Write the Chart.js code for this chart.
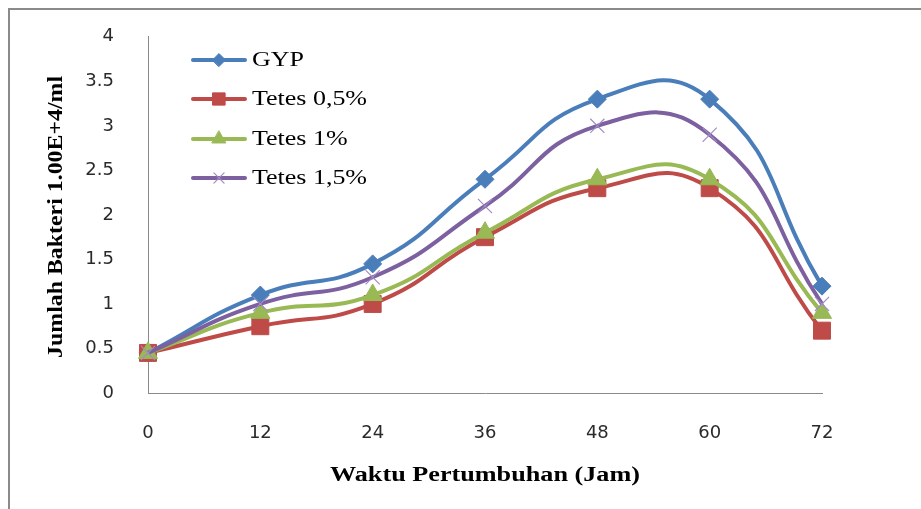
<!DOCTYPE html>
<html>
<head>
<meta charset="utf-8">
<script src="https://cdn.jsdelivr.net/npm/chart.js@4/dist/chart.umd.min.js"></script>
<style>
  html, body { margin: 0; padding: 0; background: #ffffff; }
  #wrap { width: 921px; height: 509px; position: relative; }
</style>
</head>
<body>
<div id="wrap"><canvas id="c" width="921" height="509"></canvas></div>
<script>
// Growth time (hours) and bacterial counts per treatment
const hours = [0, 12, 24, 36, 48, 60, 72];
const gyp = [0.45, 1.1, 1.45, 2.4, 3.3, 3.3, 1.2];
const tetes05 = [0.45, 0.75, 1.0, 1.75, 2.3, 2.3, 0.7];
const tetes1 = [0.45, 0.9, 1.1, 1.8, 2.4, 2.4, 0.9];
const tetes15 = [0.45, 1.0, 1.3, 2.1, 3.0, 2.9, 1.0];
const seriesNames = ['GYP', 'Tetes 0,5%', 'Tetes 1%', 'Tetes 1,5%'];
const yTicks = [0, 0.5, 1, 1.5, 2, 2.5, 3, 3.5, 4];
const xTitle = 'Waktu Pertumbuhan (Jam)';
const yTitle = 'Jumlah Bakteri 1.00E+4/ml';

const pts = arr => hours.map((h, i) => ({ x: h, y: arr[i] }));

function series(label, values, color, style, radius, order, markerColor, markerWidth) {
  return {
    label: label,
    data: pts(values),
    borderColor: color,
    backgroundColor: markerColor || color,
    borderWidth: 4,
    tension: 0.5,
    pointStyle: style,
    pointRadius: radius,
    pointHoverRadius: radius,
    pointBackgroundColor: markerColor || color,
    pointBorderColor: markerColor || color,
    pointBorderWidth: markerWidth || 1,
    clip: false,
    order: order
  };
}

const datasets = [
  series(seriesNames[0], gyp, '#4A7EBB', 'rectRot', 9, 4),
  series(seriesNames[1], tetes05, '#BE4B48', 'rect', 12, 3),
  series(seriesNames[2], tetes1, '#98B954', 'triangle', 11, 2),
  series(seriesNames[3], tetes15, '#7D60A0', 'crossRot', 10, 1, '#A08CC4', 1.2)
];

// Draws text stretched horizontally to a given width
function drawStretched(ctx, text, cx, cy, font, targetWidth, rotate) {
  ctx.save();
  ctx.font = font;
  const w = ctx.measureText(text).width;
  const sx = targetWidth ? targetWidth / w : 1;
  ctx.translate(cx, cy);
  if (rotate) ctx.rotate(rotate);
  ctx.scale(sx, 1);
  ctx.textAlign = 'center';
  ctx.textBaseline = 'middle';
  ctx.fillStyle = '#000000';
  ctx.fillText(text, 0, 0);
  ctx.restore();
}

const decorations = {
  id: 'decorations',
  beforeDraw(chart) {
    const ctx = chart.ctx;
    ctx.save();
    ctx.fillStyle = '#ffffff';
    ctx.fillRect(0, 0, chart.width, chart.height);
    // outer frame (top and left edges visible)
    ctx.strokeStyle = '#8a8a8a';
    ctx.lineWidth = 2;
    ctx.beginPath();
    ctx.moveTo(chart.width, 9);
    ctx.lineTo(9, 9);
    ctx.lineTo(9, chart.height);
    ctx.stroke();
    ctx.restore();
  },
  afterDraw(chart) {
    const ctx = chart.ctx;
    const area = chart.chartArea;
    const midX = (area.left + area.right) / 2;
    const midY = (area.top + area.bottom) / 2;
    drawStretched(ctx, xTitle, midX, 476, 'bold 20px "Liberation Serif"', 310, 0);
    drawStretched(ctx, yTitle, 57, midY + 2, 'bold 20px "Liberation Serif"', 282, -Math.PI / 2);

    // legend: line with marker, then label
    const lx0 = area.left + 45, lx1 = area.left + 97, mx = area.left + 71;
    const tx = area.left + 104;
    const rowY = [60, 99, 139, 178];
    ctx.save();
    ctx.font = '20px "Liberation Serif"';
    const sx = 115 / ctx.measureText(seriesNames[1]).width;
    ctx.restore();
    chart.data.datasets.forEach((ds, i) => {
      const y = rowY[i];
      ctx.save();
      ctx.strokeStyle = ds.borderColor;
      ctx.lineWidth = 4;
      ctx.lineCap = 'round';
      ctx.beginPath();
      ctx.moveTo(lx0, y);
      ctx.lineTo(lx1, y);
      ctx.stroke();
      ctx.fillStyle = ds.pointBackgroundColor;
      ctx.strokeStyle = ds.pointBorderColor;
      ctx.lineWidth = ds.pointBorderWidth;
      Chart.helpers.drawPoint(ctx, {
        pointStyle: ds.pointStyle,
        radius: ds.pointRadius * 0.72,
        rotation: 0,
        borderWidth: ds.pointBorderWidth
      }, mx, y);
      ctx.restore();
      ctx.save();
      ctx.font = '20px "Liberation Serif"';
      ctx.translate(tx, y + 1);
      ctx.scale(sx, 1);
      ctx.textAlign = 'left';
      ctx.textBaseline = 'middle';
      ctx.fillStyle = '#000000';
      ctx.fillText(ds.label, 0, 0);
      ctx.restore();
    });
  }
};

new Chart(document.getElementById('c'), {
  type: 'line',
  data: { datasets: datasets },
  options: {
    responsive: false,
    animation: false,
    devicePixelRatio: 1,
    layout: { padding: { top: 35, right: 99, left: 0, bottom: 0 } },
    plugins: {
      legend: { display: false },
      tooltip: { enabled: false },
      title: { display: false }
    },
    scales: {
      x: {
        type: 'linear',
        min: 0,
        max: 72,
        afterFit(scale) { scale.height = 116; },
        afterBuildTicks(scale) { scale.ticks = hours.map(v => ({ value: v })); },
        grid: { display: false },
        border: { display: true, color: '#8a8a8a', width: 1 },
        ticks: {
          padding: 22,
          color: '#2a2a2a',
          font: { family: '"DejaVu Sans"', size: 18 },
          maxRotation: 0
        }
      },
      y: {
        type: 'linear',
        min: 0,
        max: 4,
        afterFit(scale) { scale.width = 148; },
        afterBuildTicks(scale) { scale.ticks = yTicks.map(v => ({ value: v })); },
        grid: { display: false },
        border: { display: true, color: '#8a8a8a', width: 1 },
        ticks: {
          padding: 26,
          color: '#2a2a2a',
          font: { family: '"DejaVu Sans"', size: 18 },
          callback: v => String(v)
        }
      }
    }
  },
  plugins: [decorations]
});
</script>
</body>
</html>
